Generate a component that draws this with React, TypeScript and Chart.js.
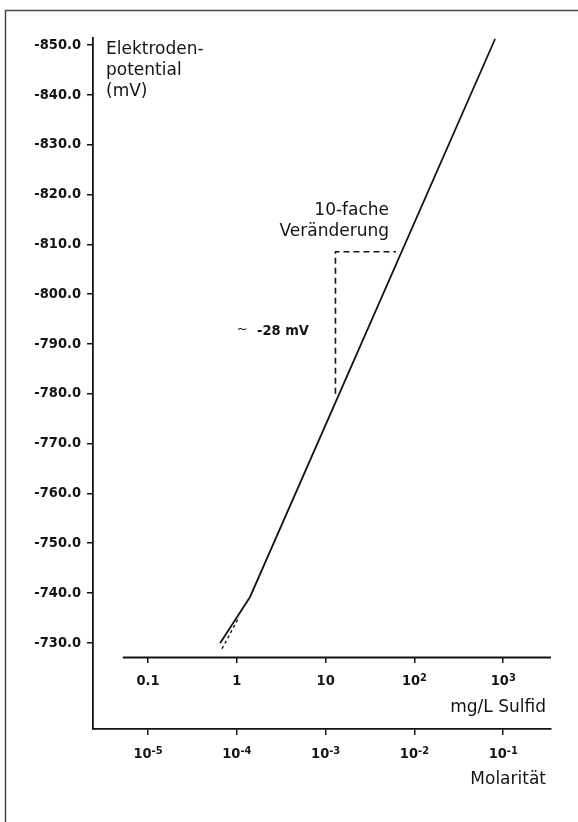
import React, { useEffect, useRef } from "react";
import { Chart, registerables } from "chart.js";

Chart.register(...registerables);

// ---- data ----
const yTicks = [-850, -840, -830, -820, -810, -800, -790, -780, -770, -760, -750, -740, -730];
const mgTicks = [0.1, 1, 10, 100, 1000];
const mgLabelBase = ["0.1", "1", "10", "10", "10"];
const mgLabelExp = ["", "", "", "2", "3"];
const molTicks = [1e-5, 1e-4, 1e-3, 1e-2, 1e-1];
const molLabelBase = ["10", "10", "10", "10", "10"];
const molLabelExp = ["-5", "-4", "-3", "-2", "-1"];

// electrode potential curve (mg/L sulfide vs mV)
const curveX = [0.647, 1.408, 809];
const curveY = [-729.9, -739.2, -851.2];
// short dashed branch at the low end
const lowDashX = [0.681, 1.06];
const lowDashY = [-728.8, -735.2];
// dashed "10-fold change" step
const stepX = [12.9, 12.9, 62.1];
const stepY = [-780.0, -808.5, -808.5];

// ---- scale ranges ----
const Y_MIN = -851.4;
const Y_MAX = -712.7;
const MG_MIN = 0.024;
const MG_MAX = 3450;
const MOL_FACTOR = 1e-4;
const UPPER_AXIS_Y = -727.2;
const UPPER_AXIS_START = 0.052;

const W = 578;
const H = 822;
const INK = "#141414";
const FRAME = "#4a4a4a";
const COND = '"DejaVu Sans Condensed", "DejaVu Sans", sans-serif';
const GEO = '"DejaVu Sans", sans-serif';
const BOLD_SIZE = 14.5;

function drawPow(ctx: CanvasRenderingContext2D, base: string, exp: string, cx: number, baseline: number) {
  ctx.font = `bold ${BOLD_SIZE}px ${COND}`;
  const wb = ctx.measureText(base).width;
  ctx.font = `bold 11px ${COND}`;
  const we = exp ? ctx.measureText(exp).width : 0;
  const start = cx - (wb + we) / 2;
  ctx.textAlign = "left";
  ctx.textBaseline = "alphabetic";
  ctx.font = `bold ${BOLD_SIZE}px ${COND}`;
  ctx.fillText(base, start, baseline);
  if (exp) {
    ctx.font = `bold 11px ${COND}`;
    ctx.fillText(exp, start + wb, baseline - 4);
  }
}

const overlay = {
  id: "overlay",
  beforeDraw(chart: any) {
    const ctx = chart.ctx as CanvasRenderingContext2D;
    ctx.save();
    ctx.fillStyle = "#ffffff";
    ctx.fillRect(0, 0, chart.width, chart.height);
    ctx.restore();
  },
  afterDraw(chart: any) {
    const ctx = chart.ctx as CanvasRenderingContext2D;
    const xs = chart.scales.x;
    const x2 = chart.scales.x2;
    const ys = chart.scales.y;
    const area = chart.chartArea;
    ctx.save();

    // outer frame
    ctx.strokeStyle = FRAME;
    ctx.lineWidth = 1.5;
    ctx.strokeRect(5.5, 10.5, chart.width + 20, chart.height + 20);

    // upper (mg/L) axis line
    const uy = ys.getPixelForValue(UPPER_AXIS_Y);
    ctx.strokeStyle = INK;
    ctx.lineWidth = 1.8;
    ctx.beginPath();
    ctx.moveTo(xs.getPixelForValue(UPPER_AXIS_START), Math.round(uy) + 0.5);
    ctx.lineTo(area.right, Math.round(uy) + 0.5);
    ctx.stroke();

    ctx.fillStyle = INK;
    // tick labels
    mgTicks.forEach((v, i) => drawPow(ctx, mgLabelBase[i], mgLabelExp[i], xs.getPixelForValue(v), uy + 28));
    molTicks.forEach((v, i) => drawPow(ctx, molLabelBase[i], molLabelExp[i], x2.getPixelForValue(v), x2.top + 29));

    // axis titles
    ctx.font = `17px ${GEO}`;
    ctx.textBaseline = "alphabetic";
    ctx.textAlign = "right";
    ctx.fillText("mg/L Sulfid", area.right - 5, uy + 55);
    ctx.fillText("Molarität", area.right - 5, x2.top + 55);
    ctx.textAlign = "left";
    ctx.fillText("Elektroden-", area.left + 13, area.top + 16);
    ctx.fillText("potential", area.left + 13, area.top + 37);
    ctx.fillText("(mV)", area.left + 13, area.top + 58);

    // annotation: 10-fold change
    const ax = xs.getPixelForValue(51.8);
    const ay = ys.getPixelForValue(-815.9);
    ctx.textAlign = "right";
    ctx.fillText("10-fache", ax, ay);
    ctx.fillText("Veränderung", ax, ay + 21);

    // annotation: ~ -28 mV
    const tx = xs.getPixelForValue(1.689);
    const ty = ys.getPixelForValue(-791.8);
    ctx.textAlign = "left";
    ctx.font = `bold ${BOLD_SIZE}px ${COND}`;
    ctx.fillText("-28 mV", tx, ty);
    ctx.font = `13px ${GEO}`;
    ctx.fillText("~", xs.getPixelForValue(1.0), ty - 2);

    ctx.restore();
  },
};

export default function App() {
  const ref = useRef<HTMLCanvasElement>(null);
  useEffect(() => {
    const canvas = ref.current;
    if (!canvas) return;
    const gridOpts = {
      display: true,
      drawOnChartArea: false,
      drawTicks: true,
      tickLength: 6,
      color: INK,
      lineWidth: 1.5,
    };
    const chart = new Chart(canvas, {
      type: "line",
      data: {
        datasets: [
          {
            data: curveX.map((x, i) => ({ x, y: curveY[i] })),
            borderColor: INK,
            borderWidth: 1.8,
            pointRadius: 0,
            tension: 0,
            fill: false,
            xAxisID: "x",
            yAxisID: "y",
          },
          {
            data: lowDashX.map((x, i) => ({ x, y: lowDashY[i] })),
            borderColor: INK,
            borderWidth: 1.4,
            borderDash: [3, 3],
            pointRadius: 0,
            tension: 0,
            fill: false,
            xAxisID: "x",
            yAxisID: "y",
          },
          {
            data: stepX.map((x, i) => ({ x, y: stepY[i] })),
            borderColor: INK,
            borderWidth: 1.6,
            borderDash: [6, 4],
            pointRadius: 0,
            tension: 0,
            fill: false,
            xAxisID: "x",
            yAxisID: "y",
          },
        ],
      },
      options: {
        animation: false,
        responsive: false,
        devicePixelRatio: 1,
        layout: { padding: { top: 38, right: 27, left: 0, bottom: 0 } },
        plugins: { legend: { display: false }, tooltip: { enabled: false } },
        scales: {
          x: {
            type: "logarithmic",
            axis: "x",
            min: MG_MIN,
            max: MG_MAX,
            position: { y: UPPER_AXIS_Y },
            afterBuildTicks: (s: any) => {
              s.ticks = mgTicks.map((v) => ({ value: v }));
            },
            ticks: { display: false },
            grid: gridOpts,
            border: { display: false },
          },
          x2: {
            type: "logarithmic",
            axis: "x",
            position: "bottom",
            min: MG_MIN * MOL_FACTOR,
            max: MG_MAX * MOL_FACTOR,
            afterBuildTicks: (s: any) => {
              s.ticks = molTicks.map((v) => ({ value: v }));
            },
            afterFit: (s: any) => {
              s.height = 93;
            },
            ticks: { display: false },
            grid: gridOpts,
            border: { display: true, color: INK, width: 1.8 },
          },
          y: {
            type: "linear",
            position: "left",
            reverse: true,
            min: Y_MIN,
            max: Y_MAX,
            afterBuildTicks: (s: any) => {
              s.ticks = yTicks.map((v) => ({ value: v }));
            },
            afterFit: (s: any) => {
              s.width = 93;
            },
            ticks: {
              color: INK,
              padding: 6,
              font: { family: COND, size: BOLD_SIZE, weight: "bold" },
              callback: (v: any) => Number(v).toFixed(1),
            },
            grid: gridOpts,
            border: { display: true, color: INK, width: 1.8 },
          },
        },
      } as any,
      plugins: [overlay],
    });
    return () => chart.destroy();
  }, []);
  return (
    <div style={{ position: "absolute", left: 0, top: 0, width: W, height: H, background: "#fff" }}>
      <canvas ref={ref} width={W} height={H} style={{ display: "block", width: W, height: H }} />
    </div>
  );
}
